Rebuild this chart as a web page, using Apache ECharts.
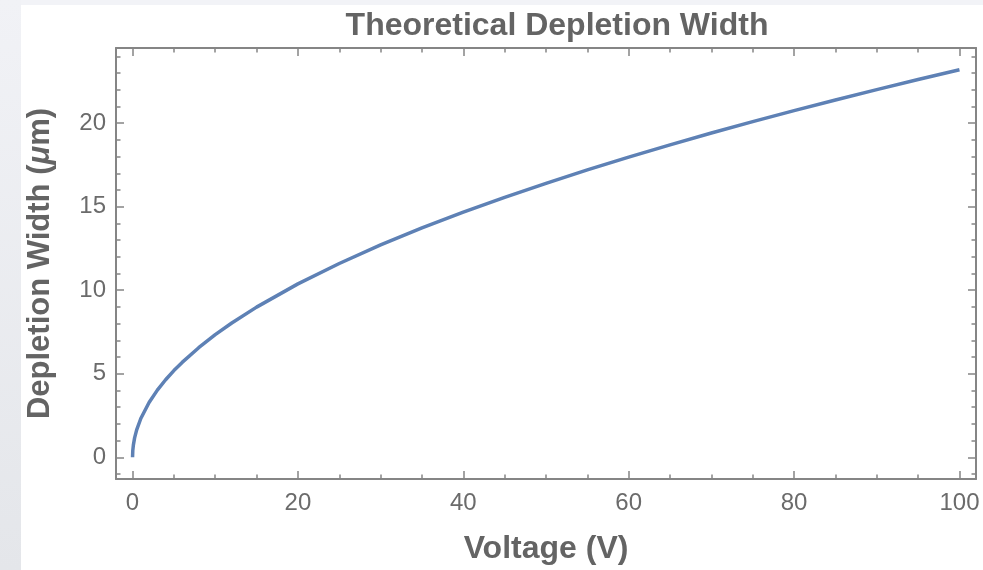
<!DOCTYPE html>
<html>
<head>
<meta charset="utf-8">
<title>Theoretical Depletion Width</title>
<script src="https://cdn.jsdelivr.net/npm/echarts@6/dist/echarts.min.js"></script>
<style>
  html, body { margin: 0; padding: 0; }
  #chart { width: 983px; height: 570px; }
</style>
</head>
<body>
<div id="chart"></div>
<script>
// values
const voltage = [0, 0.03, 0.1, 0.25, 0.5, 1, 2, 3, 4, 5, 6, 8, 10, 12, 15, 20, 25, 30, 35, 40, 45, 50, 55, 60, 65, 70, 75, 80, 85, 90, 95, 100];
const width = [0, 0.4, 0.73, 1.16, 1.64, 2.32, 3.28, 4.02, 4.64, 5.19, 5.68, 6.56, 7.34, 8.04, 8.99, 10.38, 11.6, 12.71, 13.73, 14.67, 15.56, 16.4, 17.2, 17.97, 18.7, 19.41, 20.09, 20.75, 21.39, 22.01, 22.61, 23.2];

const xMajorTicks = [0, 20, 40, 60, 80, 100];
const xMinorTicks = [0, 5, 10, 15, 20, 25, 30, 35, 40, 45, 50, 55, 60, 65, 70, 75, 80, 85, 90, 95, 100];
const yMajorTicks = [0, 5, 10, 15, 20];
const yMinorTicks = [-1, 0, 1, 2, 3, 4, 5, 6, 7, 8, 9, 10, 11, 12, 13, 14, 15, 16, 17, 18, 19, 20, 21, 22, 23, 24];

const frameColor = "#858585";
const textColor = "#6b6b6b";
const font = "Liberation Sans";

function xAxisDef(position, ticks, len, labels, line) {
  return {
    type: "value", position, min: -2, max: 102,
    axisLine: { show: line, onZero: false, lineStyle: { color: frameColor, width: 2 } },
    axisTick: { show: true, inside: true, length: len, customValues: ticks, lineStyle: { color: frameColor, width: 1.5 } },
    axisLabel: labels
      ? { show: true, customValues: ticks, margin: 12, color: textColor, fontFamily: font, fontSize: 24 }
      : { show: false },
    splitLine: { show: false },
  };
}

function yAxisDef(position, ticks, len, labels, line) {
  return {
    type: "value", position, min: -1.3, max: 24.5,
    axisLine: { show: line, onZero: false, lineStyle: { color: frameColor, width: 2 } },
    axisTick: { show: true, inside: true, length: len, customValues: ticks, lineStyle: { color: frameColor, width: 1.5 } },
    axisLabel: labels
      ? { show: true, customValues: ticks, margin: 10, color: textColor, fontFamily: font, fontSize: 24 }
      : { show: false },
    splitLine: { show: false },
  };
}

const xAxes = [
  xAxisDef("bottom", xMajorTicks, 8, true, true),
  xAxisDef("bottom", xMinorTicks, 4.5, false, false),
  xAxisDef("top", xMajorTicks, 8, false, true),
  xAxisDef("top", xMinorTicks, 4.5, false, false),
];
Object.assign(xAxes[0], {
  name: "Voltage (V)", nameLocation: "middle", nameGap: 54,
  nameTextStyle: { color: "#646464", fontFamily: font, fontSize: 32, fontWeight: "bold" },
});

const yAxes = [
  yAxisDef("left", yMajorTicks, 8, true, true),
  yAxisDef("left", yMinorTicks, 4.5, false, false),
  yAxisDef("right", yMajorTicks, 8, false, true),
  yAxisDef("right", yMinorTicks, 4.5, false, false),
];
Object.assign(yAxes[0], {
  name: "Depletion Width ({i|μ}m)", nameLocation: "middle", nameGap: 60,
  nameTextStyle: {
    color: "#646464", fontFamily: font, fontSize: 31, fontWeight: "bold",
    rich: { i: { color: "#646464", fontFamily: font, fontSize: 31, fontWeight: "bold", fontStyle: "italic" } },
  },
});

const chart = echarts.init(document.getElementById("chart"));
chart.setOption({
  animation: false,
  backgroundColor: "#f2f3f7",
  graphic: [
    {
      type: "rect", left: 0, top: 0, z: -10,
      shape: { width: 21, height: 570 },
      style: { fill: new echarts.graphic.LinearGradient(0, 0, 0, 1, [
        { offset: 0, color: "#f1f2f6" }, { offset: 1, color: "#e4e6ea" },
      ]) },
    },
    { type: "rect", left: 21, top: 5, z: -10, shape: { width: 962, height: 565 }, style: { fill: "#ffffff" } },
  ],
  title: {
    text: "Theoretical Depletion Width",
    left: 552, top: 5, textAlign: "center",
    textStyle: { color: "#646464", fontFamily: font, fontSize: 32, fontWeight: "bold" },
  },
  grid: { left: 116, top: 48, right: 7, bottom: 90, containLabel: false },
  xAxis: xAxes,
  yAxis: yAxes,
  series: [
    {
      type: "line",
      xAxisIndex: 0, yAxisIndex: 0,
      data: voltage.map((v, i) => [v, width[i]]),
      showSymbol: false,
      lineStyle: { color: "#5e81b5", width: 3.5 },
    },
  ],
});
</script>
</body>
</html>
